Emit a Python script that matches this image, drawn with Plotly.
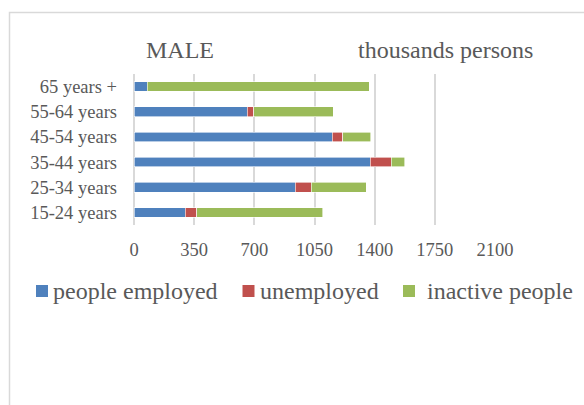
import plotly.graph_objects as go

# age groups, bottom to top as drawn
age_groups = ["15-24 years", "25-34 years", "35-44 years", "45-54 years", "55-64 years", "65 years +"]
employed = [299, 939, 1375, 1153, 659, 78]
unemployed = [67, 91, 121, 61, 39, 0]
inactive = [732, 321, 78, 163, 462, 1290]

x_ticks = [0, 350, 700, 1050, 1400, 1750, 2100]

series_names = ["people employed", "unemployed", "inactive people"]
series_colors = ["#4f81bd", "#c0504d", "#9bbb59"]

W, H = 584, 405
L, R, T, B = 134, 495, 74, 225  # plot area in pixels
FONT = "Liberation Serif, Times New Roman, serif"
GREY = "#595959"


def px(x):
    return (x - L) / (R - L)


def py(y):
    return (B - y) / (B - T)


fig = go.Figure()
for name, vals, color in zip(series_names, [employed, unemployed, inactive], series_colors):
    fig.add_trace(go.Bar(
        y=age_groups, x=vals, name=name, orientation="h",
        marker=dict(color=color, line=dict(color="white", width=0.6)),
        showlegend=False,
    ))

shapes = [
    # chart frame (right / bottom edges fall outside the picture)
    dict(type="rect", xref="paper", yref="paper",
         x0=px(9.5), x1=px(W + 40), y0=py(12.5), y1=py(H + 40),
         line=dict(color="#d9d9d9", width=1.5), layer="below"),
]
annotations = [
    dict(text="MALE", x=px(144), y=py(50), xref="paper", yref="paper",
         xanchor="left", yanchor="middle", showarrow=False,
         font=dict(family=FONT, size=24, color=GREY)),
    dict(text="thousands persons", x=px(356), y=py(50), xref="paper", yref="paper",
         xanchor="left", yanchor="middle", showarrow=False,
         font=dict(family=FONT, size=24, color=GREY)),
]

# legend drawn by hand to match the original spacing
legend_sym_x = [36, 242.5, 403]
legend_txt_x = [51, 258, 425]
for name, color, sx, tx in zip(series_names, series_colors, legend_sym_x, legend_txt_x):
    shapes.append(dict(type="rect", xref="paper", yref="paper",
                       x0=px(sx), x1=px(sx + 12), y0=py(285), y1=py(297),
                       fillcolor=color, line=dict(width=0)))
    annotations.append(dict(text=name, x=px(tx), y=py(291), xref="paper", yref="paper",
                            xanchor="left", yanchor="middle", showarrow=False,
                            font=dict(family=FONT, size=24, color=GREY)))

fig.update_layout(
    width=W, height=H,
    margin=dict(l=L, r=W - R, t=T, b=H - B, pad=0),
    barmode="stack",
    bargap=0.62,
    paper_bgcolor="white",
    plot_bgcolor="white",
    font=dict(family=FONT, color=GREY),
    shapes=shapes,
    annotations=annotations,
)
fig.update_xaxes(
    range=[0, 2100], tickvals=x_ticks, showgrid=True, gridcolor="#d9d9d9", gridwidth=1.5,
    zeroline=True, zerolinecolor="#d9d9d9", zerolinewidth=1.5,
    showline=False, ticks="", tickfont=dict(family=FONT, size=18.5, color=GREY),
    ticklabelstandoff=11, fixedrange=True,
)
fig.update_yaxes(
    showgrid=False, showline=False, ticks="",
    tickfont=dict(family=FONT, size=18.5, color=GREY),
    ticklabelstandoff=16, fixedrange=True,
)

# drop the page's default body margin so the figure sits at the window's corner
fig.write_html("out.html", config={"displayModeBar": False},
               post_script="document.body.style.margin='0';")
